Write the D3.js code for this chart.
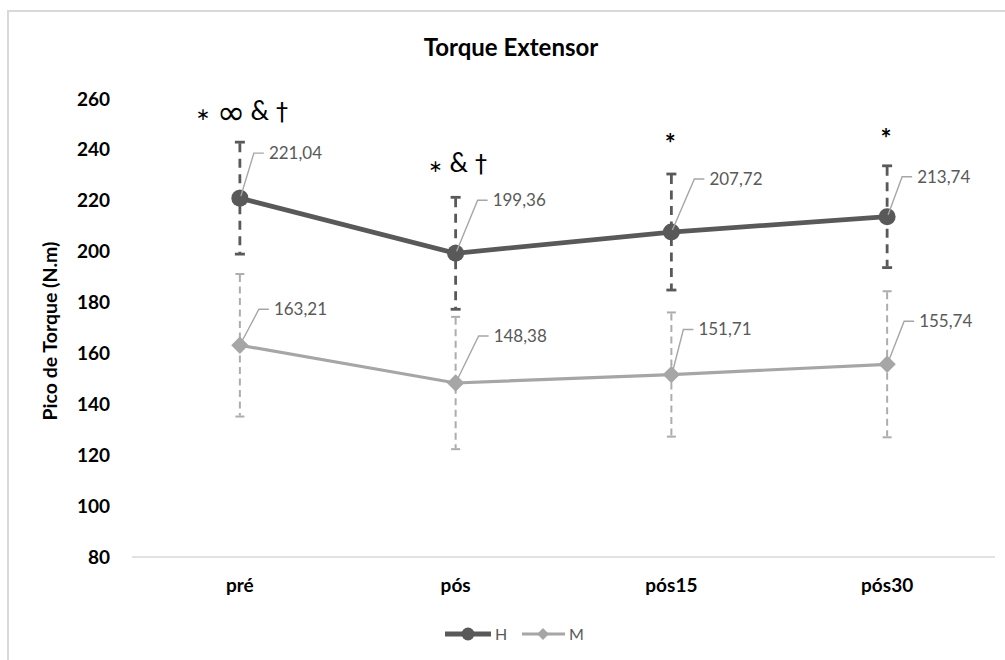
<!DOCTYPE html>
<html>
<head>
<meta charset="utf-8">
<script src="https://cdn.jsdelivr.net/npm/d3@7"></script>
<style>
  html, body { margin: 0; padding: 0; background: #fff; }
  svg { display: block; font-family: Lato, "Open Sans", sans-serif; }
</style>
</head>
<body>
<svg id="chart" width="1005" height="660"></svg>
<script>
// ---- data ----
const categories = ["pré", "pós", "pós15", "pós30"];
const meanH = [221.04, 199.36, 207.72, 213.74];
const sdH   = [22.0, 22.0, 22.8, 20.0];
const meanM = [163.21, 148.38, 151.71, 155.74];
const sdM   = [28.0, 26.0, 24.4, 28.7];
const labelsH = ["221,04", "199,36", "207,72", "213,74"];
const labelsM = ["163,21", "148,38", "151,71", "155,74"];
const annotations = [["∗", "∞", "&", "†"], ["∗", "&", "†"], ["*"], ["*"]];
const yTicks = [80, 100, 120, 140, 160, 180, 200, 220, 240, 260];
const seriesNames = ["H", "M"];
const title = "Torque Extensor";
const yTitle = "Pico de Torque (N.m)";

// ---- layout (not data) ----
const labelOffH = [[29, -45], [37, -53], [38, -53], [30, -40]];
const labelOffM = [[34, -36], [38, -47], [27, -45], [32, -43]];
const annotDy = [22, 25, 21, 18];
const symStyle = {
  "∗": {size: 17, weight: 400, family: "'DejaVu Sans', sans-serif", gap: 7, shift: 0},
  "∞": {size: 34, weight: 400, family: "'DejaVu Sans', sans-serif", gap: 5, shift: 4},
  "&": {size: 26, weight: 400, family: "Lato, sans-serif", gap: 7, shift: 0},
  "†": {size: 24, weight: 400, family: "'DejaVu Sans', sans-serif", gap: 0, shift: 0},
  "*": {size: 26, weight: 700, family: "Lato, sans-serif", gap: 0, shift: 0}
};

const colH = "#595959", colM = "#a6a6a6";
const svg = d3.select("#chart");

// border
svg.append("path").attr("d", "M8,665 V11 H1010")
  .attr("fill", "none").attr("stroke", "#d9d9d9").attr("stroke-width", 2);

const x = d3.scaleBand().domain(categories).range([132, 995]).padding(0);
const cx = c => x(c) + x.bandwidth() / 2;
const y = d3.scaleLinear().domain([80, 260]).range([557, 99]);

// title
svg.append("text").attr("x", 511).attr("y", 56).attr("text-anchor", "middle")
  .attr("font-size", 24).attr("font-weight", 700).attr("fill", "#000").text(title);

// y axis
const gy = svg.append("g").attr("transform", "translate(110,0)")
  .call(d3.axisLeft(y).tickValues(yTicks).tickSize(0).tickPadding(0).tickFormat(d3.format("d")));
gy.select(".domain").remove();
gy.selectAll("text").attr("font-size", 19).attr("font-weight", 700)
  .attr("fill", "#000").attr("font-family", "Lato, sans-serif");

// y title
svg.append("text").attr("transform", "translate(57,331) rotate(-90)")
  .attr("text-anchor", "middle").attr("font-size", 19.5).attr("font-weight", 700)
  .attr("fill", "#000").text(yTitle);

// x axis
const gx = svg.append("g").attr("transform", "translate(0,557)")
  .call(d3.axisBottom(x).tickSize(0).tickPadding(22));
gx.select(".domain").attr("stroke", "#d9d9d9").attr("stroke-width", 1.5)
  .attr("d", "M132,0H995");
gx.selectAll("text").attr("font-size", 19).attr("font-weight", 700)
  .attr("fill", "#000").attr("font-family", "Lato, sans-serif");

// error bars
function errorBars(means, sds, color, width, dash, cap) {
  const g = svg.append("g");
  categories.forEach((c, i) => {
    const top = y(means[i] + sds[i]), bot = y(means[i] - sds[i]);
    g.append("line").attr("x1", cx(c)).attr("x2", cx(c)).attr("y1", top + 1).attr("y2", bot - 1)
      .attr("stroke", color).attr("stroke-width", width).attr("stroke-dasharray", dash);
    [top, bot].forEach(v => g.append("line")
      .attr("x1", cx(c) - cap).attr("x2", cx(c) + cap).attr("y1", v).attr("y2", v)
      .attr("stroke", color).attr("stroke-width", width));
  });
}
errorBars(meanM, sdM, "#adadad", 2, "7,4.5", 4.5);
errorBars(meanH, sdH, colH, 2.8, "9,6.5", 5);

const line = d3.line().x((d, i) => cx(categories[i])).y(d => y(d));

// M series
svg.append("path").datum(meanM).attr("d", line).attr("fill", "none")
  .attr("stroke", colM).attr("stroke-width", 3.2);
svg.append("g").selectAll("path").data(meanM).join("path")
  .attr("d", d3.symbol(d3.symbolSquare, 150)())
  .attr("transform", (d, i) => `translate(${cx(categories[i])},${y(d)}) rotate(45)`)
  .attr("fill", colM);

// H series
svg.append("path").datum(meanH).attr("d", line).attr("fill", "none")
  .attr("stroke", colH).attr("stroke-width", 4.8);
svg.append("g").selectAll("circle").data(meanH).join("circle")
  .attr("cx", (d, i) => cx(categories[i])).attr("cy", d => y(d)).attr("r", 8.5)
  .attr("fill", colH);

// data labels with leader lines
function dataLabels(means, labels, offs) {
  const g = svg.append("g");
  means.forEach((m, i) => {
    const px = cx(categories[i]), py = y(m);
    const tx = px + offs[i][0], ty = py + offs[i][1];
    g.append("path").attr("d", `M${px + 1},${py - 2} L${tx - 15},${ty} H${tx - 5}`)
      .attr("fill", "none").attr("stroke", "#a6a6a6").attr("stroke-width", 1.4);
    g.append("text").attr("x", tx).attr("y", ty).attr("dy", "0.35em")
      .attr("font-size", 17).attr("fill", colH).text(labels[i]);
  });
}
dataLabels(meanH, labelsH, labelOffH);
dataLabels(meanM, labelsM, labelOffM);

// significance annotations
const ag = svg.append("g");
annotations.forEach((syms, i) => {
  const t = ag.append("text")
    .attr("x", cx(categories[i]) + (i < 2 ? 2 : -1))
    .attr("y", y(meanH[i] + sdH[i]) - annotDy[i])
    .attr("text-anchor", "middle").attr("fill", "#000");
  let prevShift = 0;
  syms.forEach((s, j) => {
    const st = symStyle[s];
    t.append("tspan").attr("font-size", st.size).attr("font-weight", st.weight)
      .attr("font-family", st.family)
      .attr("dx", j > 0 ? symStyle[syms[j - 1]].gap : 0)
      .attr("dy", st.shift - prevShift).text(s);
    prevShift = st.shift;
  });
});

// legend
const lg = svg.append("g").attr("transform", "translate(0,634)");
lg.append("line").attr("x1", 445).attr("x2", 491).attr("stroke", colH).attr("stroke-width", 4.8);
lg.append("circle").attr("cx", 468).attr("cy", 0).attr("r", 6.5).attr("fill", colH);
lg.append("text").attr("x", 495).attr("y", 0).attr("dy", "0.36em").attr("font-size", 16)
  .attr("fill", colH).text(seriesNames[0]);
lg.append("line").attr("x1", 522).attr("x2", 565).attr("stroke", colM).attr("stroke-width", 3);
lg.append("path").attr("d", d3.symbol(d3.symbolSquare, 70)())
  .attr("transform", "translate(543,0) rotate(45)").attr("fill", colM);
lg.append("text").attr("x", 569).attr("y", 0).attr("dy", "0.36em").attr("font-size", 16)
  .attr("fill", colH).text(seriesNames[1]);
</script>
</body>
</html>
